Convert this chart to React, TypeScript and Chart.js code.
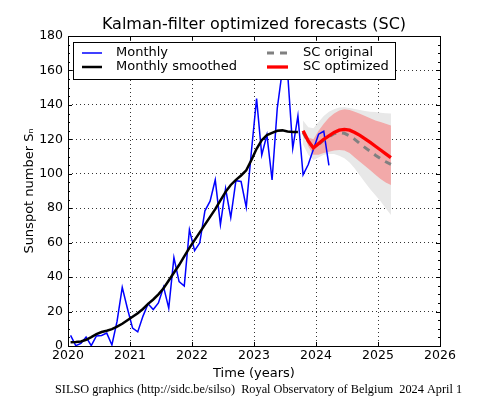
import React, { useEffect, useRef } from "react";
import { Chart, registerables } from "chart.js";

Chart.register(...registerables);

// ---- Data ----
const monthlyStart = { year: 2020, month: 1 };
const monthlyValues = [
  6.2, 0.2, 1.5, 5.2, 0.2, 5.8, 6.1, 7.5, 0.6, 14.4, 34.0, 21.8,
  10.4, 8.2, 17.2, 24.5, 21.2, 25.0, 34.3, 22.0, 51.3, 37.4, 34.8, 67.5,
  55.3, 59.9, 78.5, 84.1, 96.5, 70.5, 91.4, 74.6, 96.0, 95.5, 80.5, 113.1,
  143.6, 110.9, 122.6, 96.4, 137.9, 160.5, 159.1, 114.8, 133.6, 99.4, 105.4, 114.2,
  123.0, 124.7, 104.9,
];
const smoothedStart = { year: 2020, month: 1 };
const smoothedValues = [
  2.2, 2.3, 2.6, 3.6, 5.2, 6.9, 8.1, 8.9, 9.8, 11.2, 12.9, 15.0,
  17.0, 19.0, 21.5, 24.5, 27.0, 30.0, 33.5, 38.0, 42.5, 47.0, 52.0, 57.0,
  61.5, 66.0, 70.5, 75.0, 79.5, 84.5, 89.5, 93.5, 96.5, 99.0, 102.0, 108.0,
  114.5, 119.5, 122.5, 123.8, 125.0, 125.2, 124.6, 124.2, 124.2,
];
const forecastStart = { year: 2023, month: 10 };
const scOriginal = [
  124.0, 118.5, 115.0, 117.0, 119.5, 121.5, 123.3, 124.0, 123.5, 122.0,
  120.0, 117.5, 115.2, 113.0, 110.8, 108.8, 107.0, 105.5,
];
const scOriginalUpper = [
  131.0, 127.0, 126.5, 130.0, 133.5, 136.0, 137.5, 138.5, 138.6, 138.2,
  137.6, 137.0, 136.5, 136.0, 135.8, 135.5, 135.2, 135.0,
];
const scOriginalLower = [
  117.0, 111.0, 108.0, 109.5, 111.0, 111.5, 111.5, 110.5, 109.0, 106.5,
  103.0, 99.0, 95.0, 91.0, 87.5, 84.0, 80.0, 76.0,
];
const scOptimized = [
  125.0, 119.0, 115.0, 117.5, 120.0, 122.0, 124.0, 125.3, 125.8, 125.3,
  124.0, 122.3, 120.3, 118.2, 116.0, 113.8, 111.6, 109.4,
];
const scOptimizedUpper = [
  125.0, 121.0, 120.0, 125.0, 129.0, 132.5, 135.0, 136.8, 137.5, 137.0,
  136.0, 134.8, 133.5, 132.3, 131.0, 130.0, 129.0, 128.0,
];
const scOptimizedLower = [
  125.0, 116.0, 111.0, 111.0, 112.0, 112.8, 113.5, 113.8, 113.5, 112.0,
  109.5, 107.0, 104.5, 102.0, 99.5, 97.0, 95.0, 93.5,
];
const xTickValues = [2020, 2021, 2022, 2023, 2024, 2025, 2026];
const yTickValues = [0, 20, 40, 60, 80, 100, 120, 140, 160, 180];
const yMinorStep = 5;

const titleText = "Kalman-filter optimized forecasts (SC)";
const xTitle = "Time (years)";
const yTitle = "Sunspot number S\u2099";
const footerText =
  "SILSO graphics (http://sidc.be/silso)  Royal Observatory of Belgium  2024 April 1";

const FONT = "'DejaVu Sans', sans-serif";

function toPoints(start: { year: number; month: number }, values: number[]) {
  return values.map((v, i) => ({
    x: start.year + (start.month - 1 + i + 0.5) / 12,
    y: v,
  }));
}

const decorPlugin = {
  id: "decor",
  afterDraw(chart: any) {
    const { ctx, chartArea, scales } = chart;
    const xs = scales.x;
    const ys = scales.y;
    const { left, right, top, bottom } = chartArea;
    ctx.save();
    // frame
    ctx.strokeStyle = "#000";
    ctx.lineWidth = 1;
    ctx.setLineDash([]);
    ctx.strokeRect(
      Math.round(left) + 0.5,
      Math.round(top) + 0.5,
      Math.round(right - left),
      Math.round(bottom - top)
    );
    // inward ticks
    ctx.beginPath();
    xTickValues.forEach((v) => {
      const px = Math.round(xs.getPixelForValue(v)) + 0.5;
      ctx.moveTo(px, bottom);
      ctx.lineTo(px, bottom - 4);
      ctx.moveTo(px, top);
      ctx.lineTo(px, top + 4);
    });
    const yMin = yTickValues[0];
    const yMax = yTickValues[yTickValues.length - 1];
    for (let v = yMin; v <= yMax; v += yMinorStep) {
      const py = Math.round(ys.getPixelForValue(v)) + 0.5;
      const len = yTickValues.includes(v) ? 4 : 2;
      ctx.moveTo(left, py);
      ctx.lineTo(left + len, py);
      ctx.moveTo(right, py);
      ctx.lineTo(right - len, py);
    }
    ctx.stroke();

    // title
    ctx.fillStyle = "#000";
    ctx.font = `16px ${FONT}`;
    ctx.textAlign = "center";
    ctx.textBaseline = "middle";
    ctx.fillText(titleText, (left + right) / 2, 25);

    // footer
    ctx.font = "12.3px 'Liberation Serif', serif";
    ctx.textAlign = "left";
    ctx.fillText(footerText, 55, 390);

    // legend
    const ds = chart.data.datasets;
    const bx = 73, by = 42, bw = 322, bh = 37;
    ctx.fillStyle = "#fff";
    ctx.fillRect(bx, by, bw, bh);
    ctx.strokeStyle = "#000";
    ctx.lineWidth = 1;
    ctx.strokeRect(bx + 0.5, by + 0.5, bw, bh);
    const cols = [
      { lineX: 82, lineW: 20, textX: 116 },
      { lineX: 267, lineW: 21, textX: 303 },
    ];
    const rowsY = [53, 67];
    const legendItems = ds.filter((d: any) => d.legendPos);
    legendItems.forEach((d: any) => {
      const [c, r] = d.legendPos;
      const col = cols[c];
      const y = rowsY[r];
      ctx.save();
      ctx.strokeStyle = d.borderColor;
      ctx.lineWidth = d.borderWidth;
      ctx.setLineDash(d.borderDash || []);
      ctx.beginPath();
      ctx.moveTo(col.lineX, y);
      ctx.lineTo(col.lineX + col.lineW, y);
      ctx.stroke();
      ctx.restore();
      ctx.fillStyle = "#000";
      ctx.font = `13px ${FONT}`;
      ctx.textAlign = "left";
      ctx.textBaseline = "middle";
      ctx.fillText(d.label, col.textX, y);
    });
    ctx.restore();
  },
};

export default function App() {
  const canvasRef = useRef<HTMLCanvasElement | null>(null);

  useEffect(() => {
    const canvas = canvasRef.current;
    if (!canvas) return;
    const tickFont = { family: FONT, size: 12.5 };
    const chart = new Chart(canvas, {
      type: "line",
      data: {
        datasets: [
          {
            label: "Monthly",
            data: toPoints(monthlyStart, monthlyValues),
            borderColor: "#0000ff",
            borderWidth: 1.5,
            order: 4,
            legendPos: [0, 0],
          } as any,
          {
            label: "Monthly smoothed",
            data: toPoints(smoothedStart, smoothedValues),
            borderColor: "#000000",
            borderWidth: 2.5,
            order: 3,
            legendPos: [0, 1],
          } as any,
          {
            label: "SC original",
            data: toPoints(forecastStart, scOriginal),
            borderColor: "#808080",
            borderWidth: 3,
            borderDash: [7, 6],
            order: 2,
            legendPos: [1, 0],
          } as any,
          {
            label: "SC optimized",
            data: toPoints(forecastStart, scOptimized),
            borderColor: "#ff0000",
            borderWidth: 3.3,
            order: 1,
            legendPos: [1, 1],
          } as any,
          {
            label: "original range upper",
            data: toPoints(forecastStart, scOriginalUpper),
            borderColor: "transparent",
            borderWidth: 0,
            backgroundColor: "#e8e8e8",
            fill: "+1",
            order: 10,
          },
          {
            label: "original range lower",
            data: toPoints(forecastStart, scOriginalLower),
            borderColor: "transparent",
            borderWidth: 0,
            fill: false,
            order: 10,
          },
          {
            label: "optimized range upper",
            data: toPoints(forecastStart, scOptimizedUpper),
            borderColor: "transparent",
            borderWidth: 0,
            backgroundColor: "#f2a9a9",
            fill: "+1",
            order: 9,
          },
          {
            label: "optimized range lower",
            data: toPoints(forecastStart, scOptimizedLower),
            borderColor: "transparent",
            borderWidth: 0,
            fill: false,
            order: 9,
          },
        ],
      },
      options: {
        responsive: false,
        devicePixelRatio: 1,
        animation: false,
        events: [],
        layout: { padding: { top: 36, right: 38, bottom: 0, left: 0 } },
        elements: {
          point: { radius: 0 },
          line: { tension: 0, borderJoinStyle: "miter" },
        },
        plugins: {
          legend: { display: false },
          title: { display: false },
          tooltip: { enabled: false },
        },
        scales: {
          x: {
            type: "linear",
            min: xTickValues[0],
            max: xTickValues[xTickValues.length - 1],
            z: 1,
            afterBuildTicks: (scale: any) => {
              scale.ticks = xTickValues.map((v) => ({ value: v }));
            },
            afterFit: (scale: any) => {
              scale.height = 52;
            },
            ticks: {
              callback: (v: any) => String(v),
              font: tickFont,
              color: "#000",
              padding: 2,
              maxRotation: 0,
              autoSkip: false,
            },
            grid: { color: "rgba(0,0,0,0.8)", lineWidth: 1, drawTicks: false },
            border: { display: false, dash: [1, 3] },
            title: {
              display: true,
              text: xTitle,
              color: "#000",
              font: { family: FONT, size: 13 },
              padding: { top: 0, bottom: 17 },
            },
          },
          y: {
            type: "linear",
            min: yTickValues[0],
            max: yTickValues[yTickValues.length - 1],
            z: 1,
            afterBuildTicks: (scale: any) => {
              scale.ticks = yTickValues.map((v) => ({ value: v }));
            },
            afterFit: (scale: any) => {
              scale.width = 68;
            },
            ticks: {
              callback: (v: any) => String(v),
              font: tickFont,
              color: "#000",
              padding: 5,
            },
            grid: { color: "rgba(0,0,0,0.8)", lineWidth: 1, drawTicks: false },
            border: { display: false, dash: [1, 3] },
            title: {
              display: true,
              text: yTitle,
              color: "#000",
              font: { family: FONT, size: 13 },
              padding: { top: 22, bottom: 0 },
            },
          },
        },
      } as any,
      plugins: [decorPlugin],
    });
    return () => chart.destroy();
  }, []);

  return (
    <div
      style={{
        position: "fixed",
        left: 0,
        top: 0,
        width: 478,
        height: 398,
        background: "#fff",
      }}
    >
      <canvas
        ref={canvasRef}
        width={478}
        height={398}
        style={{ display: "block", width: 478, height: 398 }}
      />
    </div>
  );
}
